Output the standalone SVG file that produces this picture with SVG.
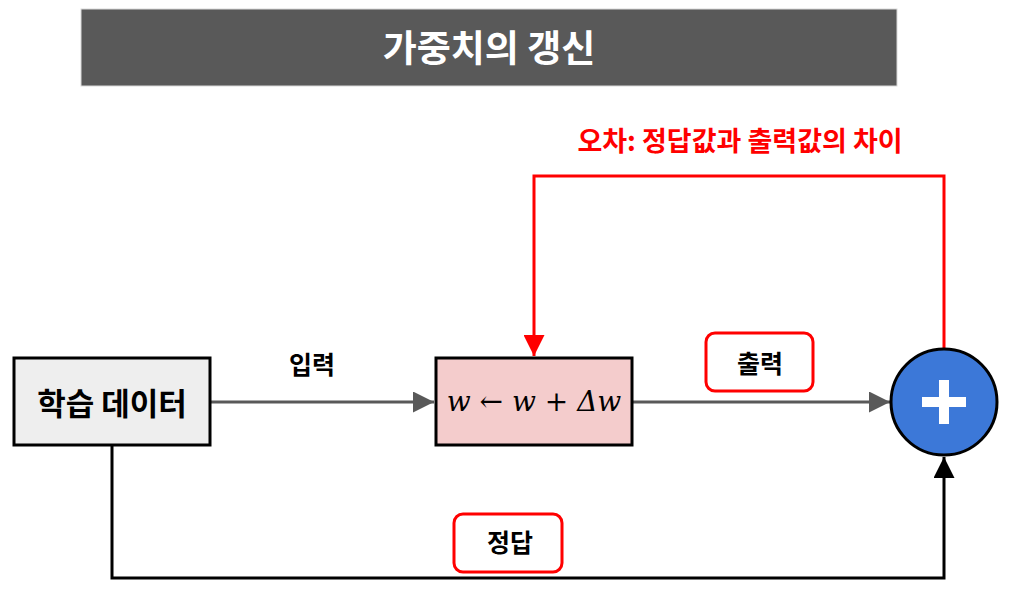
<svg xmlns="http://www.w3.org/2000/svg" width="1015" height="596" viewBox="0 0 1015 596">
<style>
.kr{font-family:"Noto Sans CJK KR","Noto Sans",sans-serif;font-weight:bold;text-anchor:middle;dominant-baseline:central}
.box{stroke:#000;stroke-width:3}
.lbl{fill:#fff;stroke:#ff0000;stroke-width:3}
</style>
<defs>
<marker id="ag" viewBox="0 0 10 10" refX="10" refY="5" markerWidth="7" markerHeight="7" orient="auto"><path d="M0,0L10,5L0,10z" fill="#595959"/></marker>
<marker id="ar" viewBox="0 0 10 10" refX="10" refY="5" markerWidth="7" markerHeight="7" orient="auto"><path d="M0,0L10,5L0,10z" fill="#ff0000"/></marker>
<marker id="ak" viewBox="0 0 10 10" refX="10" refY="5" markerWidth="7" markerHeight="7" orient="auto"><path d="M0,0L10,5L0,10z" fill="#000"/></marker>
</defs>
<rect width="1015" height="596" fill="#fff"/>
<g id="title">
<rect x="81" y="9" width="816" height="77" fill="#595959" stroke="#d9d9d9" stroke-width="1"/>
<text class="kr" x="489" y="46" font-size="37" fill="#fff">가중치의 갱신</text>
</g>
<g id="connectors" fill="none">
<path d="M210,402H434" stroke="#595959" stroke-width="3" marker-end="url(#ag)"/>
<path d="M632,402H890" stroke="#595959" stroke-width="3" marker-end="url(#ag)"/>
<path d="M944,349V176H534V356" stroke="#ff0000" stroke-width="3" marker-end="url(#ar)"/>
<path d="M112,445V578H944V457" stroke="#000" stroke-width="3" marker-end="url(#ak)"/>
</g>
<g id="error-label">
<text class="kr" x="740" y="139" font-size="27" fill="#ff0000">오차: 정답값과 출력값의 차이</text>
</g>
<g id="data">
<rect class="box" x="14" y="358" width="196" height="87" fill="#eeeeee"/>
<text class="kr" x="112" y="401" font-size="31" fill="#000">학습 데이터</text>
</g>
<g id="input-label">
<text class="kr" x="312" y="363" font-size="25" fill="#000">입력</text>
</g>
<g id="update">
<rect class="box" x="436" y="358" width="196" height="87" fill="#f4cccc"/>
<text x="534" y="411" font-family="'DejaVu Serif','Liberation Serif',serif" font-size="28" text-anchor="middle" fill="#000"><tspan font-style="italic">w</tspan> ← <tspan font-style="italic">w</tspan> + <tspan font-style="italic">Δw</tspan></text>
</g>
<g id="output-label">
<rect class="lbl" x="706" y="333" width="107" height="58" rx="9"/>
<text class="kr" x="760" y="362" font-size="25" fill="#000">출력</text>
</g>
<g id="sum">
<circle cx="944" cy="402" r="53" fill="#3c78d8" stroke="#000" stroke-width="3"/>
<path d="M922,402H966M944,380V424" stroke="#fff" stroke-width="10"/>
</g>
<g id="answer-label">
<rect class="lbl" x="454" y="514" width="108" height="58" rx="9"/>
<text class="kr" x="510" y="541" font-size="25" fill="#000">정답</text>
</g>
</svg>
